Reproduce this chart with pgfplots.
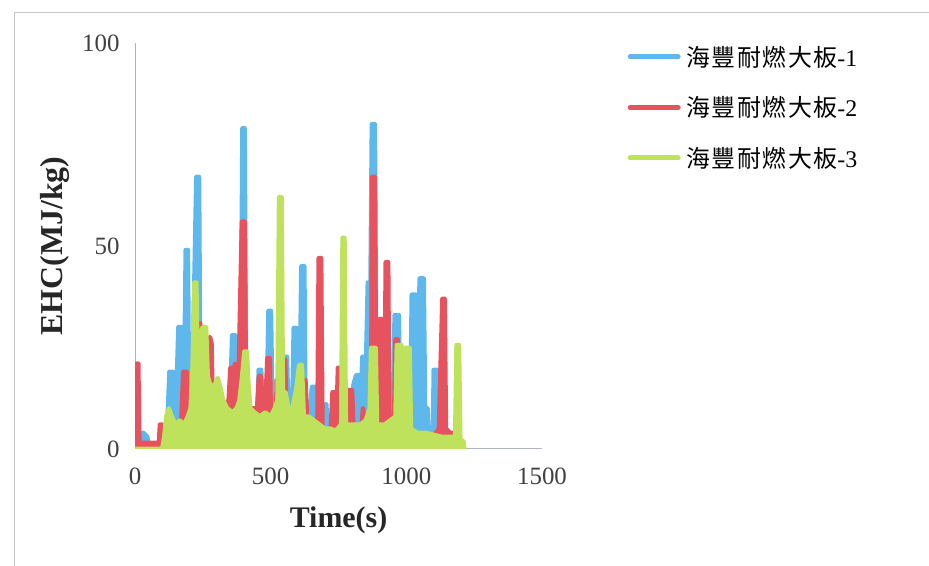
\documentclass[border=0pt]{standalone}
\usepackage{pgfplots}
\pgfplotsset{compat=1.18}
\usepackage{fontspec}
\setmainfont{Liberation Serif}
\newfontfamily\cjk[LetterSpace=6]{Noto Sans CJK TC}
\definecolor{cblue}{RGB}{95,184,236}
\definecolor{cred}{RGB}{230,82,94}
\definecolor{cgreen}{RGB}{190,226,92}
\definecolor{axgray}{RGB}{175,180,190}
\begin{document}
\begin{tikzpicture}
\useasboundingbox (0bp,0bp) rectangle (929bp,566bp);
\draw[gray!45, line width=1bp] (14bp,0bp) -- (14bp,553bp) -- (929bp,553bp);
\begin{axis}[
  at={(135bp,117bp)}, anchor=south west,
  scale only axis, width=407bp, height=406bp,
  xmin=0, xmax=1500, ymin=0, ymax=100,
  xtick={0,500,1000,1500}, ytick={0,50,100},
  axis x line*=bottom, axis y line*=left,
  axis line style={draw=axgray, line width=1bp, -},
  major tick length=0pt,
  /pgf/number format/assume math mode=true,
  /pgf/number format/1000 sep={},
  tick label style={font=\fontsize{25}{30}\selectfont, text=black!75},
  xticklabel style={yshift=-15bp},
  yticklabel style={xshift=-12bp},
  xlabel={Time(s)}, ylabel={EHC(MJ/kg)},
  label style={font=\bfseries\fontsize{30}{36}\selectfont, text=black!85},
  xlabel style={at={(axis description cs:0.5,-0.175)}, anchor=center},
  ylabel style={at={(axis description cs:-0.197,0.5)}, anchor=center, font=\bfseries\fontsize{32}{38}\selectfont},
  legend style={at={(axis description cs:1.21,0.998)}, anchor=north west,
    draw=none, fill=none, font=\fontsize{24}{28}\selectfont, row sep=25bp,
    inner sep=0pt, nodes={inner xsep=6bp}},
  legend cell align=left,
  legend image code/.code={\draw[#1, fill=none, line width=5bp, line cap=round] (0bp,0bp) -- (48bp,0bp);},
  every axis plot/.append style={line width=4.5bp, line join=round, line cap=round},
]
% series 1 (blue)
\addplot[draw=cblue, fill=cblue] coordinates {
(0,0)(5,2)(12,4)(30,4)(45,3)(50,1)(100,1)(118,4)(127,19)(140,19)(144,6)(150,8)
(160,30)(178,30)(182,20)(187,49)(195,49)(199,12)(210,10)(226,67)(236,67)(241,12)
(250,10)(300,10)(350,10)(358,28)(370,28)(375,10)(390,20)(396,79)(404,79)(409,20)
(420,10)(452,10)(456,19.5)(465,19.5)(470,10)(485,10)(492,34)(501,34)(506,12)
(520,10)(545,10)(550,22.7)(560,22.7)(565,10)(580,12)(585,29.8)(596,29.8)(600,12)
(607,12)(613,45)(624,45)(628,12)(645,10)(652,15.3)(668,15.3)(672,8)(690,11)
(705,11)(710,5)(800,5)(805,15.8)(815,18.2)(825,18.2)(830,8)(838,22.7)(852,22.7)
(858,41)(868,41)(873,80)(884,80)(889,15)(900,15)(905,32)(915,32)(920,10)(950,10)
(957,33)(972,33)(978,10)(1015,10)(1020,38)(1036,38)(1041,10)(1049,42)(1064,42)
(1069,10)(1078,10)(1082,4)(1098,4)(1101,19.5)(1116,19.5)(1120,4)(1200,2)(1210,0)
} \closedcycle;
% series 2 (red)
\addplot[draw=cred, fill=cred] coordinates {
(0,0)(6,21)(12,21)(16,2)(22,1.5)(88,1.5)(92,6)(100,6)(104,1)(120,3)(150,5)(170,6)
(178,19)(190,19)(195,6)(200,8)(215,10)(236,10)(240,31)(245,10)(255,12)(270,12)
(276,27.6)(282,26)(286,12)(300,12)(330,10)(345,12)(352,20)(360,12)(368,21)
(375,20)(380,12)(394,56)(404,56)(409,15)(420,10)(450,10)(457,18)(463,18)(470,10)
(480,10)(488,22.4)(497,22.4)(502,3)(510,3)(520,5)(522,17)(526,8)(548,10)(553,22)
(558,10)(600,8)(620,10)(628,17)(634,8)(650,5)(660,3)(672,3)(677,47)(686,47)
(691,3)(720,3)(728,14)(738,14)(744,10)(748,20)(756,20)(760,5)(780,5)(786,14.5)
(800,14.5)(805,5)(835,5)(840,10)(848,5)(870,5)(874,67)(884,67)(889,8)(898,8)
(902,32)(910,32)(914,8)(920,10)(924,46)(933,46)(937,8)(955,8)(960,27)(968,27)
(973,8)(985,9)(995,5)(1020,3)(1040,3)(1060,4)(1080,3)(1100,3)(1120,5)(1133,37)
(1141,37)(1146,5)(1160,4)(1180,4)(1190,0)
} \closedcycle;
% series 3 (green)
\addplot[draw=cgreen, fill=cgreen] coordinates {
(0,0)(100,0)(108,3)(115,8)(125,10)(135,8)(150,6)(165,7)(180,6)(195,8)(205,10)
(212,20)(219,41)(226,41)(231,20)(238,28)(250,30)(262,30)(268,18)(280,15)(295,16)
(305,17.5)(315,15)(325,12)(340,10)(360,9)(375,10)(385,12)(395,18)(403,24)(412,24)
(418,16)(425,10)(440,9)(460,8)(480,9)(500,8)(515,10)(525,12)(531,62)(540,62)
(545,14)(555,14)(565,10)(580,10)(595,15)(605,20.7)(615,20.7)(622,8)(640,8)
(660,7)(680,6)(700,5)(720,5)(740,4.5)(760,6)(765,52)(772,52)(777,6)(800,6)
(830,6)(850,7)(865,10)(870,24.9)(887,24.9)(892,6)(920,6)(940,7)(960,8)(965,25.6)
(982,25.6)(987,8)(995,24.9)(1012,24.9)(1017,5)(1040,4)(1070,4)(1100,3.5)(1130,3)
(1160,3)(1180,3)(1185,25.6)(1194,25.6)(1199,2)(1210,2)(1214,0)
} \closedcycle;
\legend{{\cjk 海豐耐燃大板}-1,{\cjk 海豐耐燃大板}-2,{\cjk 海豐耐燃大板}-3}
\end{axis}
\end{tikzpicture}
\end{document}
